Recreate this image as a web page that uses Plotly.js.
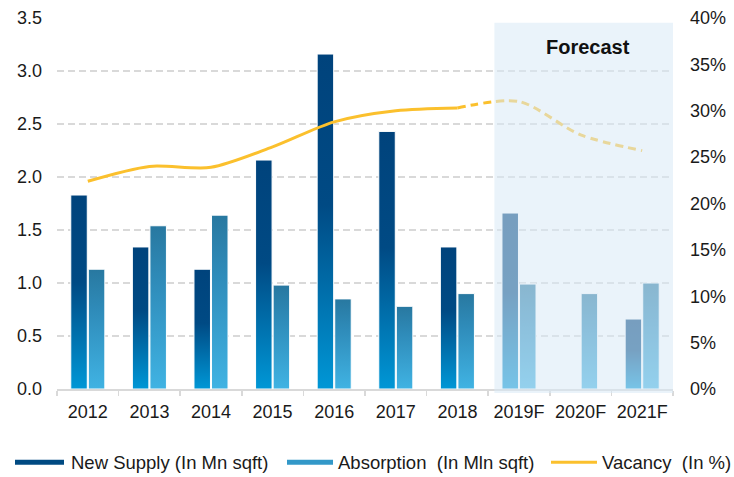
<!DOCTYPE html>
<html><head><meta charset="utf-8">
<script src="https://cdn.plot.ly/plotly-3.0.1.min.js"></script>
<style>html,body{margin:0;padding:0;background:#fff}#chart{width:734px;height:477px}</style>
</head><body><div id="chart"></div>
<script>
const years = ['2012','2013','2014','2015','2016','2017','2018','2019F','2020F','2021F'];
const newSupply = [1.83,1.34,1.13,2.16,3.16,2.43,1.34,1.66,null,0.66];
const absorption = [1.13,1.54,1.64,0.98,0.85,0.78,0.90,0.99,0.90,1.00];
const vacancy = [22.4,24.0,23.9,26.1,28.8,30.0,30.3,31.0,27.4,25.7];
const lastActual = 6; // index of 2018
const names = ['New Supply (In Mn sqft)','Absorption\u00a0 (In Mln sqft)','Vacancy\u00a0 (In %)'];

const FONT = 'Liberation Sans, Arial, sans-serif';
const data = [
  {type:'bar', x:years, y:newSupply, name:names[0], showlegend:false,
   marker:{color:'#00477f', line:{color:'#ffffff', width:1}}},
  {type:'bar', x:years, y:absorption, name:names[1], showlegend:false,
   marker:{color:'#2f95c6', line:{color:'#ffffff', width:1}}},
  {type:'scatter', mode:'lines', x:years.slice(0,lastActual+1), y:vacancy.slice(0,lastActual+1),
   yaxis:'y2', name:names[2], showlegend:false,
   line:{color:'#fbc02d', width:3, shape:'spline', smoothing:0.8}},
  {type:'scatter', mode:'lines', x:years.slice(lastActual), y:vacancy.slice(lastActual),
   yaxis:'y2', name:names[2], showlegend:false,
   line:{color:'#fbc02d', width:3, shape:'spline', smoothing:0.8, dash:'8px,5px'}},
  // legend entries
  {type:'scatter', mode:'lines', x:[null], y:[null], name:names[0], legend:'legend',
   line:{color:'#004a82', width:5}},
  {type:'scatter', mode:'lines', x:[null], y:[null], name:names[1], legend:'legend2',
   line:{color:'#3398c8', width:5}},
  {type:'scatter', mode:'lines', x:[null], y:[null], name:names[2], legend:'legend3',
   line:{color:'#fbc02d', width:3}}
];

function leg(px){
  return {orientation:'h', xref:'container', yref:'container', x:px/734, xanchor:'left',
          y:0.03, yanchor:'middle', itemwidth:46, font:{size:18.5, color:'#1a1a1a'},
          bgcolor:'rgba(0,0,0,0)'};
}

const layout = {
  width:734, height:477,
  margin:{l:57, r:61, t:18, b:88},
  paper_bgcolor:'#ffffff', plot_bgcolor:'rgba(0,0,0,0)',
  font:{family:FONT, size:18, color:'#1a1a1a'},
  barmode:'group', bargap:0.43, bargroupgap:0.06,
  xaxis:{type:'category', range:[-0.5,9.5], showline:true, linecolor:'#d9d9d9', linewidth:1.5,
         ticks:'outside', tickson:'boundaries', ticklen:5, tickcolor:'#d9d9d9', tickwidth:1.5,
         ticklabelstandoff:6, showgrid:false, tickfont:{size:18, color:'#1a1a1a'}},
  yaxis:{range:[0,3.5], dtick:0.5, tickformat:'.1f', showgrid:true, gridcolor:'#d9d9d9',
         gridwidth:1.5, griddash:'7px,4px', zeroline:false, ticks:'', ticklabelstandoff:14,
         tickfont:{size:18, color:'#1a1a1a'}},
  yaxis2:{overlaying:'y', side:'right', range:[0,40], dtick:5, ticksuffix:'%', showgrid:false,
          zeroline:false, ticks:'', ticklabelstandoff:16, tickfont:{size:18, color:'#1a1a1a'}},
  shapes:[{type:'rect', xref:'x', yref:'paper', x0:6.6, x1:9.66, y0:-0.011, y1:0.987,
           fillcolor:'#d9e9f5', opacity:0.55, line:{width:0}, layer:'above'}],
  annotations:[{text:'<b>Forecast</b>', xref:'x', yref:'paper', x:8.12, y:0.922, yanchor:'middle',
                showarrow:false, font:{family:FONT, size:20, color:'#111111'}}],
  legend:leg(15), legend2:leg(282), legend3:leg(546),
  showlegend:true
};

Plotly.newPlot('chart', data, layout, {displayModeBar:false, staticPlot:true}).then(function(gd){
  const NS = 'http://www.w3.org/2000/svg';
  const svg = gd.querySelector('.main-svg');
  let defs = svg.querySelector('defs');
  if(!defs){ defs = document.createElementNS(NS,'defs'); svg.insertBefore(defs, svg.firstChild); }
  function grad(id, stops){
    const g = document.createElementNS(NS,'linearGradient');
    g.setAttribute('id', id); g.setAttribute('x1','0'); g.setAttribute('y1','0');
    g.setAttribute('x2','0'); g.setAttribute('y2','1');
    stops.forEach(function(s){
      const st = document.createElementNS(NS,'stop');
      st.setAttribute('offset', s[0]); st.setAttribute('stop-color', s[1]);
      g.appendChild(st);
    });
    defs.appendChild(g);
  }
  grad('gSupply', [[0,'#00437c'],[0.45,'#004a84'],[1,'#0097d6']]);
  grad('gAbs', [[0,'#2878a0'],[0.35,'#2f8cba'],[1,'#40b3e3']]);
  const traces = gd.querySelectorAll('.barlayer .trace');
  if(traces[0]) traces[0].querySelectorAll('path').forEach(function(p){ p.style.fill='url(#gSupply)'; });
  if(traces[1]) traces[1].querySelectorAll('path').forEach(function(p){ p.style.fill='url(#gAbs)'; });
  // widen legend swatches so they end ~7px before the text
  gd.querySelectorAll('.legend .traces').forEach(function(tr){
    const txt = tr.querySelector('text.legendtext');
    const path = tr.querySelector('.legendlines path');
    if(!txt || !path) return;
    const tb = txt.getBoundingClientRect();
    const pm = path.getScreenCTM();
    const endX = (tb.left - 7 - pm.e) / pm.a;
    path.setAttribute('d', 'M' + (endX - 49) + ',0h49');
  });
});
</script>
</body></html>
